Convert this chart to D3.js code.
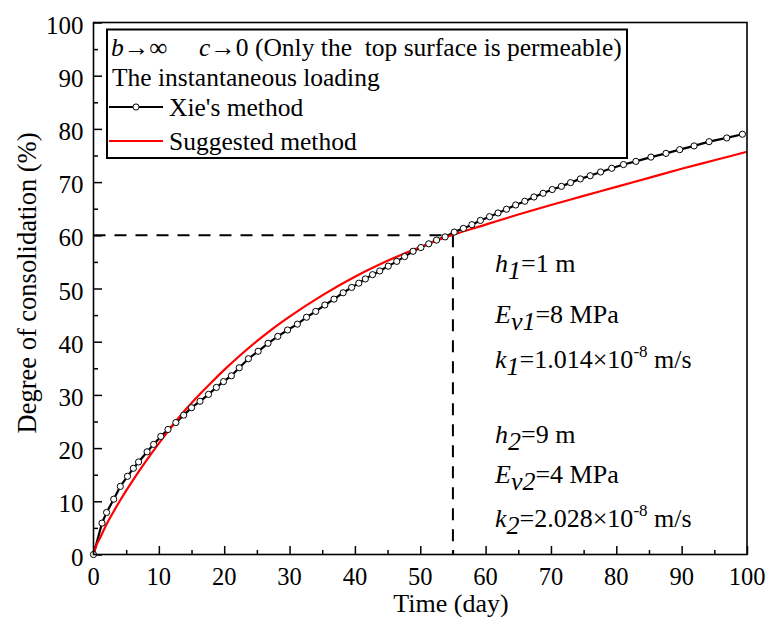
<!DOCTYPE html>
<html><head><meta charset="utf-8">
<script src="https://cdn.jsdelivr.net/npm/d3@7"></script>
<style>body{margin:0;background:#fff}svg{display:block}</style>
</head><body>
<svg id="c" width="767" height="617"></svg>
<script>
// Data
const xieTime = [0,1.3,2.0,3.1,4.1,5.2,6.1,6.9,8.2,9.2,10.3,11.4,12.6,13.8,15.0,16.3,17.6,18.8,19.9,21.1,22.3,23.7,25.2,26.7,28.2,29.7,31.2,32.6,34.0,35.4,36.8,38.2,39.5,40.6,41.6,42.7,43.8,45.1,46.4,47.6,48.9,50.1,51.3,52.5,53.8,55.2,56.6,57.9,59.2,60.6,61.9,63.2,64.6,66.0,67.4,68.8,70.2,71.6,73.0,74.5,76.0,77.6,79.3,81.1,83.0,85.3,87.6,89.7,91.9,94.2,96.9,99.3];
const xieU = [0,5.9,7.9,10.4,12.8,14.7,16.2,17.4,19.3,20.7,22.2,23.5,24.8,26.2,27.6,28.8,30.1,31.4,32.5,33.6,35.1,36.8,38.2,39.7,41.0,42.2,43.3,44.6,45.7,46.9,48.0,49.2,50.2,51.0,51.8,52.6,53.3,54.2,55.1,56.0,57.0,57.7,58.4,59.1,59.7,60.6,61.3,62.0,62.8,63.5,64.2,64.9,65.7,66.4,67.2,67.9,68.6,69.2,69.9,70.6,71.2,71.9,72.6,73.3,73.9,74.7,75.4,76.1,76.8,77.6,78.3,79.0];
const sugTime = [0,0.5,1,2,3,4,5,6,8,10,12,14,16,18,20,22.5,25,27.5,30,35,40,45,50,55,60,65,70,75,80,85,90,95,100];
const sugU = [0,1.9,3.1,5.7,7.9,10.0,12.0,13.9,17.5,20.9,24.1,27.1,29.8,32.3,34.7,37.5,40.1,42.5,44.7,48.7,52.2,55.2,57.8,60.1,62.0,63.9,65.7,67.4,69.1,70.8,72.5,74.1,75.7];
const xTicks = [0,10,20,30,40,50,60,70,80,90,100];
const yTicks = [0,10,20,30,40,50,60,70,80,90,100];
const refTime = 55, refU = 60;

const FONT = "Liberation Serif";
const svg = d3.select("#c");
const L=93.5, R=747, T=22.5, B=554.5;
const x = d3.scaleLinear().domain([0,100]).range([L,R]);
const y = d3.scaleLinear().domain([0,100]).range([B,T]);
const FS = 25;

const minor = d3.range(5,100,10);
const g = svg.append("g");
const xAxis = d3.axisBottom(x).tickValues(xTicks).tickSize(-8.5).tickFormat("");
const xAxisMinor = d3.axisBottom(x).tickValues(minor).tickSize(-4.5).tickFormat("");
const yAxis = d3.axisLeft(y).tickValues(yTicks).tickSize(-8.5).tickFormat("");
const yAxisMinor = d3.axisLeft(y).tickValues(minor).tickSize(-4.5).tickFormat("");
[[xAxis,`translate(0,${B})`],[xAxisMinor,`translate(0,${B})`],[yAxis,`translate(${L},0)`],[yAxisMinor,`translate(${L},0)`]].forEach(([a,t])=>{
  const gg = g.append("g").attr("transform",t).call(a);
  gg.select(".domain").remove();
  gg.selectAll("line").attr("stroke","#000").attr("stroke-width",1.5);
});
g.selectAll(".xl").data(xTicks).join("text").attr("x",d=>x(d)).attr("y",585)
  .attr("text-anchor","middle").attr("font-size",24.5).text(d=>d);
g.selectAll(".yl").data(yTicks).join("text").attr("x",L-10).attr("y",d=>y(d)+11)
  .attr("text-anchor","end").attr("font-size",FS).text(d=>d);

svg.append("text").attr("x",451).attr("y",612).attr("text-anchor","middle").attr("font-size",26).text("Time (day)");
svg.append("text").attr("transform",`translate(36,283) rotate(-90)`).attr("text-anchor","middle").attr("font-size",26.5).text("Degree of consolidation (%)");

svg.append("line").attr("x1",x(0)).attr("x2",x(refTime)).attr("y1",y(refU)).attr("y2",y(refU))
  .attr("stroke","#000").attr("stroke-width",2).attr("stroke-dasharray","12,9");
svg.append("line").attr("x1",x(refTime)).attr("x2",x(refTime)).attr("y1",y(refU)).attr("y2",y(0))
  .attr("stroke","#000").attr("stroke-width",2).attr("stroke-dasharray","12,9");

const xieData = xieTime.map((t,i)=>[t,xieU[i]]);
const sugData = sugTime.map((t,i)=>[t,sugU[i]]);
svg.append("path").attr("d",d3.line().x(d=>x(d[0])).y(d=>y(d[1]))(xieData)).attr("fill","none").attr("stroke","#000").attr("stroke-width",2.2);
svg.append("path").attr("d",d3.line().x(d=>x(d[0])).y(d=>y(d[1])).curve(d3.curveMonotoneX)(sugData)).attr("fill","none").attr("stroke","#ff0000").attr("stroke-width",2.2);
svg.selectAll(".m").data(xieData).join("circle").attr("cx",d=>x(d[0])).attr("cy",d=>y(d[1])).attr("r",3.1)
  .attr("fill","#fff").attr("stroke","#000").attr("stroke-width",1);

svg.append("rect").attr("x",L).attr("y",T).attr("width",R-L).attr("height",B-T).attr("fill","none").attr("stroke","#000").attr("stroke-width",1.6);

const lg = svg.append("g");
const LFS = 25.5;
lg.append("rect").attr("x",107).attr("y",29.5).attr("width",520).attr("height",128.5).attr("fill","#fff").attr("stroke","#000").attr("stroke-width",2);
const t1 = lg.append("text").attr("x",111).attr("y",56).attr("font-size",LFS);
t1.append("tspan").attr("font-style","italic").text("b");
t1.append("tspan").text("→∞");
t1.append("tspan").attr("x",199).attr("font-style","italic").text("c");
t1.append("tspan").text("→0 (Only the\u00a0\u00a0top surface is permeable)");
lg.append("text").attr("x",112).attr("y",86).attr("font-size",LFS).text("The instantaneous loading");
lg.append("line").attr("x1",109).attr("x2",163).attr("y1",107).attr("y2",107).attr("stroke","#000").attr("stroke-width",2.2);
lg.append("circle").attr("cx",136).attr("cy",107).attr("r",3.1).attr("fill","#fff").attr("stroke","#000");
lg.append("text").attr("x",169).attr("y",116).attr("font-size",LFS).text("Xie's method");
lg.append("line").attr("x1",109).attr("x2",163).attr("y1",141).attr("y2",141).attr("stroke","#ff0000").attr("stroke-width",2.2);
lg.append("text").attr("x",169).attr("y",150).attr("font-size",LFS).text("Suggested method");

function ann(yy, sym, sub, rest, sup, tail){
  const t = svg.append("text").attr("x",495).attr("y",yy).attr("font-size",26);
  t.append("tspan").attr("font-style","italic").text(sym);
  t.append("tspan").attr("font-style","italic").attr("dy",7).text(sub);
  t.append("tspan").attr("dy",-7).text(rest);
  if(sup){
    t.append("tspan").attr("font-size",17).attr("dy",-11).text(sup);
    t.append("tspan").attr("dy",11).text(tail);
  }
}
ann(272,"h","1","=1 m");
ann(323,"E","v1","=8 MPa");
ann(368,"k","1","=1.014×10","-8"," m/s");
ann(443,"h","2","=9 m");
ann(483,"E","v2","=4 MPa");
ann(527,"k","2","=2.028×10","-8"," m/s");

svg.selectAll("text").attr("font-family",FONT).attr("fill","#000");
</script>
</body></html>
